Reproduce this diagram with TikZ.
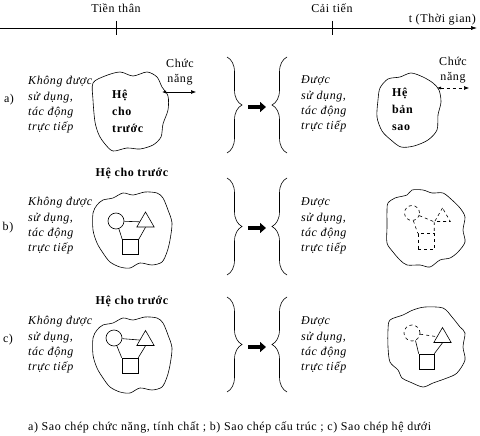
\documentclass[tikz,border=0pt]{standalone}
\usepackage{fontspec}
\setmainfont{Liberation Serif}[LetterSpace=5]
\usetikzlibrary{arrows.meta,shapes.geometric,decorations.pathreplacing}

\begin{document}
\begin{tikzpicture}[x=1pt,y=-1pt]
\tikzstyle{every node}+=[inner sep=0pt, font=\fontsize{12}{15.3}\selectfont]
\tikzstyle{note}=[align=left, anchor=west, font=\itshape\fontsize{12}{15.3}\selectfont]
\tikzstyle{sysname}=[align=left, anchor=west, font=\bfseries\fontsize{12}{17}\selectfont]
\tikzstyle{blob}=[black, line width=0.6pt]
\tikzstyle{part}=[draw, line width=0.6pt]
\tikzstyle{ring}=[part, circle, minimum size=16pt]
\tikzstyle{tri}=[part, regular polygon, regular polygon sides=3, minimum size=20pt]
\tikzstyle{sqbox}=[part, rectangle, minimum width=16pt, minimum height=15pt]
\tikzstyle{bracket}=[black, line width=0.6pt, decorate, decoration={brace, amplitude=15pt}]
\tikzstyle{bigarrow}=[black, line width=4.5pt, -{Triangle[length=6pt,width=10pt]}]
\tikzstyle{fnarrow}=[black, line width=0.6pt, {Latex[length=4pt,width=3pt]}-{Latex[length=5pt,width=4pt]}]
\useasboundingbox (0,0) rectangle (480,436);
\coordinate (t0) at (0,28);
\coordinate (t1) at (477,28);
\draw [black, line width=0.6pt, -{Latex[length=6pt,width=4pt]}] (t0) -- (t1);
\draw [black, line width=0.6pt] (116,21) -- (116,35);
\draw [black, line width=0.6pt] (332,21) -- (332,35);
\node (prev) at (116,8) {Tiền thân};
\node (impr) at (332,8) {Cải tiến};
\node [anchor=east] (time) at (476,20) {t (Thời gian)};
\node (la) at (9,100) {a)};
\node [note] (na) at (28,105) {Không được\\sử dụng,\\tác động\\trực tiếp};
\draw [blob] plot [smooth cycle] coordinates {(93,83) (105,76) (120,72) (133,76) (147,72) (157,77) (162,87) (168,96) (168,110) (163,124) (161,137) (153,145) (140,149) (127,148) (113,151) (105,144) (99,135) (95,122) (93,100)};
\node [sysname] (sa) at (112,111) {Hệ\\cho\\trước};
\coordinate (fa) at (162,92);
\coordinate (fa2) at (196,92);
\draw [fnarrow] (fa) -- (fa2);
\node [align=center] (fna) at (180,72) {Chức\\năng};
\draw [bracket] (227,57) -- (227,153);
\coordinate (ga) at (248,107);
\coordinate (ga2) at (266,107);
\draw [bigarrow] (ga) -- (ga2);
\draw [bracket] (287,153) -- (287,57);
\node [note] (ma) at (301,104) {Được\\sử dụng,\\tác động\\trực tiếp};
\draw [blob] plot [smooth cycle] coordinates {(380,88) (388,79) (400,77) (411,73) (423,77) (433,83) (439,90) (441,102) (438,115) (437,130) (428,140) (414,146) (401,147) (391,140) (382,131) (377,117) (378,100)};
\node [sysname] (ca) at (392,109) {Hệ\\bản\\sao};
\coordinate (fb) at (437,88);
\coordinate (fb2) at (469,88);
\draw [fnarrow, dashed] (fb) -- (fb2);
\node [align=center] (fnb) at (453,70) {Chức\\năng};
\node (lb) at (8,228) {b)};
\node [note] (nb) at (28,226) {Không được\\sử dụng,\\tác động\\trực tiếp};
\node [font=\bfseries\fontsize{12}{17}\selectfont] (sb) at (132,173) {Hệ cho trước};
\draw [blob] plot [smooth cycle] coordinates {(97,205) (103,200) (113,198) (123,193) (133,195) (145,192) (157,193) (163,198) (168,210) (172,223) (170,240) (167,252) (162,262) (152,265) (140,263) (130,268) (120,267) (110,262) (103,253) (97,243) (93,230) (93,213)};
\node [ring] (bc) at (116,221) {};
\node [tri] (bt) at (145.5,222) {};
\node [sqbox] (bs) at (130.5,247) {};
\draw [black, line width=0.6pt] (bc) -- (bt);
\draw [black, line width=0.6pt] (bc.-70) -- (bs.north west);
\draw [black, line width=0.6pt] (bt.side 2) -- (bs.north east);
\draw [bracket] (227,178) -- (227,275);
\coordinate (gb) at (248,228);
\coordinate (gb2) at (266,228);
\draw [bigarrow] (gb) -- (gb2);
\draw [bracket] (287,275) -- (287,178);
\node [note] (mb) at (301,226) {Được\\sử dụng,\\tác động\\trực tiếp};
\draw [blob] plot [smooth cycle] coordinates {(388,203) (395,198) (407,195) (412,190) (423,190) (432,193) (443,193) (452,200) (460,208) (465,217) (463,230) (465,242) (458,252) (450,258) (440,260) (430,267) (420,265) (407,265) (400,260) (393,252) (387,243) (387,227) (387,210)};
\node [ring, dashed, minimum size=15pt] (rbc) at (412,213) {};
\node [tri, dashed, minimum size=18pt] (rbt) at (442.5,217) {};
\node [sqbox, dashed, minimum width=16pt, minimum height=16pt] (rbs) at (426,241.5) {};
\draw [black, line width=0.6pt, dashed] (rbc.-20) -- (rbt.corner 2);
\draw [black, line width=0.6pt, dashed] (rbc.-80) -- (rbs.north west);
\draw [black, line width=0.6pt, dashed] (rbt.corner 2) -- (rbs.north east);
\node (lc) at (8,340) {c)};
\node [note] (nc) at (28,345) {Không được\\sử dụng,\\tác động\\trực tiếp};
\node [font=\bfseries\fontsize{12}{17}\selectfont] (sc) at (132,301) {Hệ cho trước};
\draw [blob, shift={(0,125)}] plot [smooth cycle] coordinates {(97,205) (103,200) (113,198) (123,193) (133,195) (145,192) (157,193) (163,198) (168,210) (172,223) (170,240) (167,252) (162,262) (152,265) (140,263) (130,268) (120,267) (110,262) (103,253) (97,243) (93,230) (93,213)};
\node [ring] (cc) at (114,338) {};
\node [tri] (ct) at (145.5,340.5) {};
\node [sqbox] (cs) at (130,365.5) {};
\draw [black, line width=0.6pt] (cc) -- (ct);
\draw [black, line width=0.6pt] (cc.-70) -- (cs.north west);
\draw [black, line width=0.6pt] (ct.side 2) -- (cs.north east);
\draw [bracket] (227,297) -- (227,392);
\coordinate (gc) at (248,347);
\coordinate (gc2) at (266,347);
\draw [bigarrow] (gc) -- (gc2);
\draw [bracket] (287,392) -- (287,297);
\node [note] (mc) at (301,345) {Được\\sử dụng,\\tác động\\trực tiếp};
\draw [blob] plot [smooth cycle] coordinates {(390,320) (403,315) (413,310) (425,307) (443,308) (452,317) (460,327) (465,333) (463,347) (465,360) (457,373) (447,378) (433,383) (423,387) (410,382) (402,378) (398,370) (390,362) (388,347) (388,330)};
\node [ring, dashed] (rcc) at (412,333) {};
\node [tri] (rct) at (442.5,337.5) {};
\node [sqbox, minimum width=15pt] (rcs) at (426.5,361.5) {};
\draw [black, line width=0.6pt, dashed] (rcc) -- (rct);
\draw [black, line width=0.6pt] (rcc.-65) -- (rcs.north west);
\draw [black, line width=0.6pt] (rct.side 2) -- (rcs.north east);
\node [anchor=west] (cap) at (28,427) {a) Sao chép chức năng, tính chất ; b) Sao chép cấu trúc ; c) Sao chép hệ dưới};
\end{tikzpicture}
\end{document}
